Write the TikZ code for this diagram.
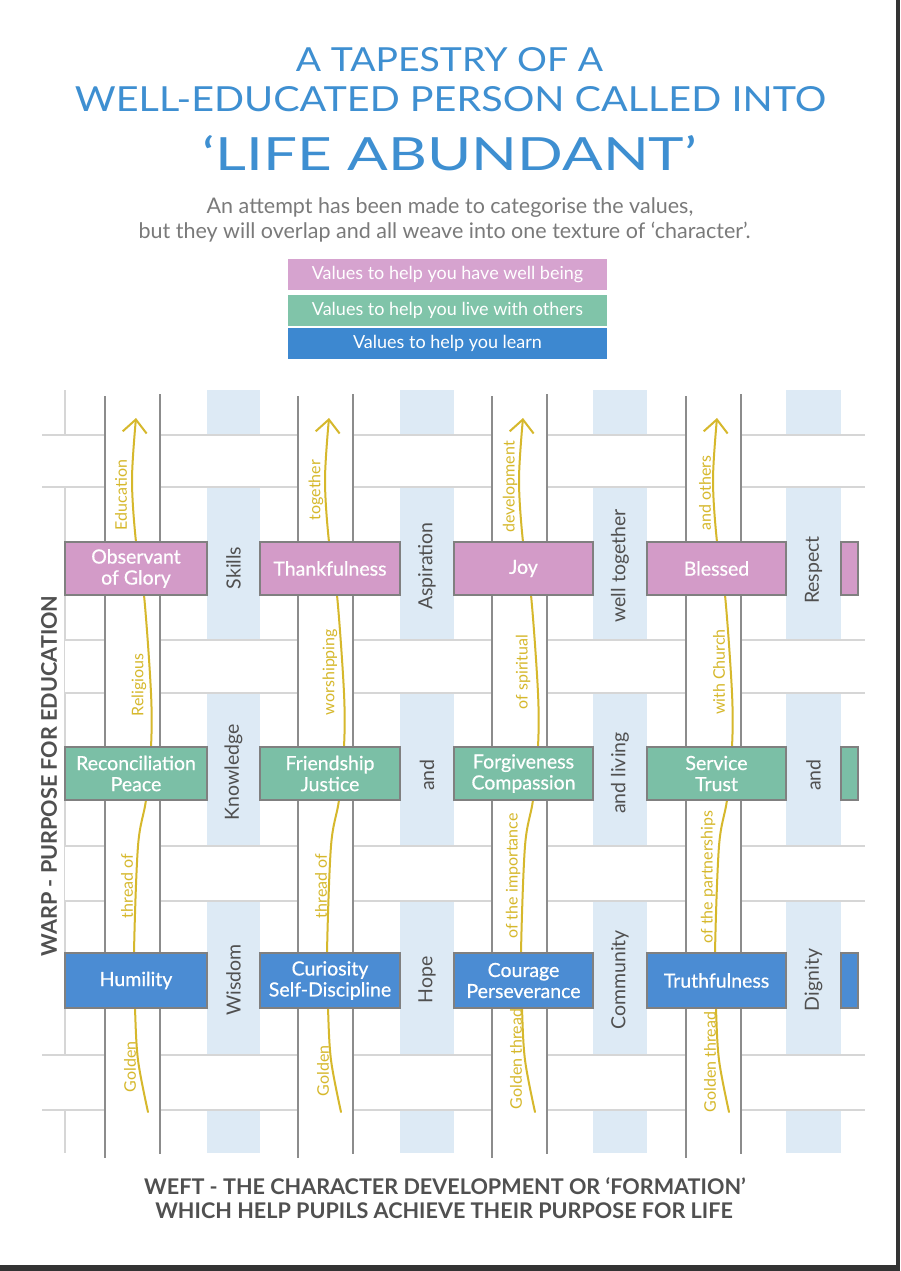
\documentclass[tikz,border=0pt]{standalone}
\usepackage{fontspec}
\setmainfont{Lato}
\usetikzlibrary{arrows.meta}
\definecolor{titleblue}{HTML}{3E8FD1}
\definecolor{subgrey}{HTML}{7A7A7A}
\definecolor{darktext}{HTML}{505050}
\definecolor{legpink}{HTML}{D6A3CF}
\definecolor{leggreen}{HTML}{80C4A9}
\definecolor{legblue}{HTML}{3D88D0}
\definecolor{boxpink}{HTML}{D39BC8}
\definecolor{boxgreen}{HTML}{7BBFA6}
\definecolor{boxblue}{HTML}{4B8CD3}
\definecolor{boxedge}{HTML}{808080}
\definecolor{stripblue}{HTML}{DDEAF5}
\definecolor{gridgrey}{HTML}{D6D6D6}
\definecolor{warpgrey}{HTML}{8C8C8C}
\definecolor{gold}{HTML}{D6B82C}
\definecolor{framegrey}{HTML}{333333}
\newcommand{\fitbox}[3]{\resizebox{#1}{#2}{#3}}
\begin{document}
\begin{tikzpicture}[x=1pt,y=-1pt,
  every node/.style={inner sep=0pt, outer sep=0pt},
  titletext/.style={text=titleblue},
  subtext/.style={text=subgrey, anchor=base, font=\fontsize{21.5}{21.5}\selectfont},
  legendbox/.style={minimum width=319pt, minimum height=31pt, text=white, font=\fontsize{18}{18}\selectfont},
  valuebox/.style={draw=boxedge, line width=1.2pt, text=white, align=center, font=\fontsize{19.5}{21}\selectfont\addfontfeature{FakeBold=0.6}},
  striptext/.style={rotate=90, text=darktext, font=\fontsize{19.5}{19.5}\selectfont},
  threadtext/.style={rotate=90, text=gold, font=\fontsize{16}{16}\selectfont},
  thread/.style={draw=gold, line width=2pt, line cap=round},
  gridline/.style={draw=gridgrey, line width=1.3pt},
  warpline/.style={draw=warpgrey, line width=1.8pt},
  captiontext/.style={text=darktext, font=\bfseries\fontsize{21.6}{21.6}\selectfont}
]
\useasboundingbox (0,0) rectangle (900,1271);
\fill[white] (0,0) rectangle (900,1271);
\fill[framegrey] (896,0) rectangle (900,1271);
\fill[framegrey] (0,1265) rectangle (900,1271);

% titles
\node[titletext] (t1) at (449.5,60) {\fitbox{307pt}{24pt}{A TAPESTRY OF A}};
\node[titletext] (t2) at (450.5,99.5) {\fitbox{751pt}{25pt}{WELL-EDUCATED PERSON CALLED INTO}};
\node[titletext] (t3) at (450,153.5) {\fitbox{494pt}{35pt}{`LIFE ABUNDANT'}};
\node[subtext] (s1) at (450,213) {An attempt has been made to categorise the values,};
\node[subtext] (s2) at (444.5,238) {but they will overlap and all weave into one texture of `character'.};

% legend
\node[legendbox, fill=legpink] (l1) at (447.5,274.5) {Values to help you have well being};
\node[legendbox, fill=leggreen] (l2) at (447.5,310) {Values to help you live with others};
\node[legendbox, fill=legblue] (l3) at (447.5,343) {Values to help you learn};

% light blue warp strips
\foreach \a/\b in {207/260,400/454,593/647,786/841}
  \fill[stripblue] (\a,390) rectangle (\b,1153);
% light edge line at left
\draw[gridline] (65,390) -- (65,1153);
% white weft bands
\foreach \t/\b/\l in {435/487/42,640/693/65,846/901/65,1055/1110/42} {
  \fill[white] (\l,\t) rectangle (865,\b);
  \draw[gridline] (\l,\t) -- (865,\t);
  \draw[gridline] (\l,\b) -- (865,\b);
}
% white warp strips with dark edges
\foreach \a in {105,298,492,686} {
  \fill[white] (\a,395) rectangle ({\a+55},1158);
  \draw[warpline] (\a,396) -- (\a,1158);
  \draw[warpline] ({\a+55},394) -- ({\a+55},1154);
}
% golden threads
\foreach \cx in {132,325,519,713} {
  \draw[thread, -{Straight Barb[length=13pt,width=24pt]}] plot[smooth, tension=0.55] coordinates {({\cx+16},1112) ({\cx+6},1060) ({\cx+3},1008) ({\cx+2},953) ({\cx+6},846) ({\cx+14},800) ({\cx+19},747) ({\cx+19},693) ({\cx+12},595) ({\cx+4},542) ({\cx},480) ({\cx+4},418)};
}
% thread words
\node[threadtext] (a1) at (121,495) {Education};
\node[threadtext] (a2) at (139,685) {Religious};
\node[threadtext] (a3) at (127,886) {thread of};
\node[threadtext] (a4) at (130,1067) {Golden};
\node[threadtext] (b1) at (316,490) {together};
\node[threadtext] (b2) at (330,672) {worshipping};
\node[threadtext] (b3) at (321,886) {thread of};
\node[threadtext] (b4) at (323,1071) {Golden};
\node[threadtext] (c1) at (510,487) {development};
\node[threadtext] (c2) at (523,672) {of spiritual};
\node[threadtext] (c3) at (513,876) {of the importance};
\node[threadtext] (c4) at (516,1059) {Golden thread};
\node[threadtext] (d1) at (705,493) {and others};
\node[threadtext] (d2) at (719,672) {with Church};
\node[threadtext] (d3) at (708,877) {of the partnerships};
\node[threadtext] (d4) at (710,1062) {Golden thread};

% value boxes (weft rows)
\node[valuebox, fill=boxpink, minimum width=142pt, minimum height=53pt] (p1) at (136,568.5) {Observant\\of Glory};
\node[valuebox, fill=boxpink, minimum width=140pt, minimum height=53pt] (p2) at (330,568.5) {Thankfulness};
\node[valuebox, fill=boxpink, minimum width=139pt, minimum height=53pt] (p3) at (523.5,568.5) {Joy};
\node[valuebox, fill=boxpink, minimum width=139pt, minimum height=53pt] (p4) at (716.5,568.5) {Blessed};
\node[valuebox, fill=boxpink, minimum width=17pt, minimum height=53pt] (p5) at (849.5,568.5) {};
\node[valuebox, fill=boxgreen, minimum width=142pt, minimum height=53pt] (g1) at (136,773.5) {Reconciliation\\Peace};
\node[valuebox, fill=boxgreen, minimum width=140pt, minimum height=53pt] (g2) at (330,773.5) {Friendship\\Justice};
\node[valuebox, fill=boxgreen, minimum width=139pt, minimum height=53pt] (g3) at (523.5,773.5) {Forgiveness\\Compassion};
\node[valuebox, fill=boxgreen, minimum width=139pt, minimum height=53pt] (g4) at (716.5,773.5) {Service\\Trust};
\node[valuebox, fill=boxgreen, minimum width=17pt, minimum height=53pt] (g5) at (849.5,773.5) {};
\node[valuebox, fill=boxblue, minimum width=142pt, minimum height=55pt] (u1) at (136,980.5) {Humility};
\node[valuebox, fill=boxblue, minimum width=140pt, minimum height=55pt] (u2) at (330,980.5) {Curiosity\\Self-Discipline};
\node[valuebox, fill=boxblue, minimum width=139pt, minimum height=55pt] (u3) at (523.5,980.5) {Courage\\Perseverance};
\node[valuebox, fill=boxblue, minimum width=139pt, minimum height=55pt] (u4) at (716.5,980.5) {Truthfulness};
\node[valuebox, fill=boxblue, minimum width=17pt, minimum height=55pt] (u5) at (849.5,980.5) {};

% strip words
\node[striptext] (k1) at (233.5,568) {Skills};
\node[striptext] (k2) at (427,566) {Aspiration};
\node[striptext] (k3) at (620,566) {well together};
\node[striptext] (k4) at (813.5,570) {Respect};
\node[striptext] (k5) at (233.5,772) {Knowledge};
\node[striptext] (k6) at (427,775) {and};
\node[striptext] (k7) at (620,773) {and living};
\node[striptext] (k8) at (813.5,775) {and};
\node[striptext] (k9) at (233.5,980) {Wisdom};
\node[striptext] (k10) at (427,980) {Hope};
\node[striptext] (k11) at (620,980) {Community};
\node[striptext] (k12) at (813.5,980) {Dignity};

% side and bottom captions
\node[captiontext, rotate=90] (warp) at (49,776) {WARP - PURPOSE FOR EDUCATION};
\node[captiontext] (w1) at (445,1186) {WEFT - THE CHARACTER DEVELOPMENT OR `FORMATION'};
\node[captiontext] (w2) at (444,1211) {WHICH HELP PUPILS ACHIEVE THEIR PURPOSE FOR LIFE};
\end{tikzpicture}
\end{document}
